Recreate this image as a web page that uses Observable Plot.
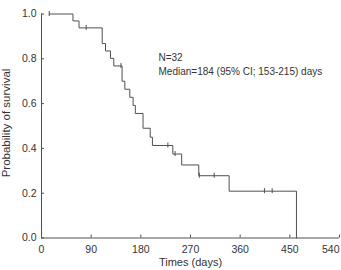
<!DOCTYPE html>
<html>
<head>
<meta charset="utf-8">
<script src="https://cdn.jsdelivr.net/npm/d3@7"></script>
<script src="https://cdn.jsdelivr.net/npm/@observablehq/plot@0.6"></script>
<style>
  body { margin: 0; background: #fff; }
</style>
</head>
<body>
<div id="chart"></div>
<script>
// Kaplan–Meier estimate: time of each step (days) and survival after that step
const stepTimes    = [14, 57, 68, 110, 116, 125, 131, 146, 151, 160, 166, 170, 184, 197, 201, 238, 254, 285, 340, 462];
const stepSurvival = [1.0, 0.969, 0.938, 0.868, 0.835, 0.802, 0.768, 0.700, 0.664, 0.628, 0.592, 0.556, 0.490, 0.450, 0.413, 0.375, 0.326, 0.278, 0.209, 0.0];
// Censored observations (days)
const censorTimes  = [14, 81, 144, 229, 242, 286, 313, 404, 418];
// Axis ticks
const xTicks = [0, 90, 180, 270, 360, 450, 540];
const yTicks = [0, 0.2, 0.4, 0.6, 0.8, 1.0];
// Labels
const xTitle = "Times (days)";
const yTitle = "Probability of survival";
const annotation = ["N=32", "Median=184 (95% CI; 153-215) days"];

const steps = stepTimes.map((t, i) => ({t, s: stepSurvival[i]}));
// survival level in force at time t (step-after)
const levelAt = t => {
  let s = 1;
  for (const d of steps) if (d.t <= t) s = d.s;
  return s;
};
const censors = censorTimes.map(t => ({t, s: levelAt(t)}));

const W = 341, H = 270;
const mL = 41, mR = 2, mT = 13.5, mB = 32.5;
const plotW = W - mL - mR, plotH = H - mT - mB;
const ink = "#505050";
const textInk = "#333";
const font = "'Liberation Sans', Arial, sans-serif";

const chart = Plot.plot({
  width: W,
  height: H,
  marginLeft: mL,
  marginRight: mR,
  marginTop: mT,
  marginBottom: mB,
  style: {fontFamily: font, color: textInk, background: "#fff"},
  x: {domain: [0, 540]},
  y: {domain: [0, 1]},
  marks: [
    // axis lines
    Plot.ruleY([0], {stroke: ink}),
    Plot.ruleX([0], {stroke: ink}),
    // inward tick marks
    Plot.tickX(xTicks, {x: d => d, insetTop: plotH - 3, stroke: ink}),
    Plot.tickY(yTicks, {y: d => d, insetRight: plotW - 3, stroke: ink}),
    // tick labels
    Plot.axisX(xTicks.slice(0, -1), {tickSize: 0, tickPadding: 8, fontSize: 10.5, label: null, fill: textInk}),
    Plot.axisX(xTicks.slice(-1), {tickSize: 0, tickPadding: 8, fontSize: 10.5, label: null, textAnchor: "end", fill: textInk}),
    Plot.axisY(yTicks, {tickSize: 0, tickPadding: 5, fontSize: 10.5, label: null, tickFormat: d3.format(".1f"), fill: textInk}),
    // axis titles
    Plot.text([xTitle], {frameAnchor: "bottom", dy: 27.5, fontSize: 11, fill: textInk}),
    Plot.text([yTitle], {frameAnchor: "left", textAnchor: "middle", rotate: -90, dx: -35, dy: -3, fontSize: 11.5, fill: textInk}),
    // survival curve
    Plot.line(steps, {x: "t", y: "s", curve: "step-after", stroke: ink, strokeWidth: 1}),
    // censor marks
    Plot.ruleX(censors, {x: "t", y1: "s", y2: "s", insetTop: -2.5, insetBottom: -2.5, stroke: ink}),
    // summary note
    Plot.text([annotation.join("\n")], {
      x: 212, y: 0.832, textAnchor: "start", lineAnchor: "top",
      lineHeight: 1.34, fontSize: 10, fill: textInk
    })
  ]
});

document.getElementById("chart").appendChild(chart);
</script>
</body>
</html>
